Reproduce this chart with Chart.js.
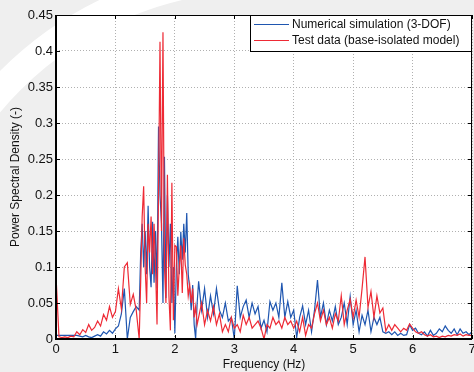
<!DOCTYPE html>
<html>
<head>
<meta charset="utf-8">
<script src="https://cdn.jsdelivr.net/npm/chart.js@4/dist/chart.umd.min.js"></script>
<style>
html,body{margin:0;padding:0;background:#efefef;}
#wrap{position:relative;width:474px;height:372px;}
</style>
</head>
<body>
<div id="wrap"><canvas id="c" width="474" height="372"></canvas></div>
<script>
const freqHz = [
  0,0.05,0.1,0.15,0.2,0.25,0.3,0.35,0.4,0.45,0.5,0.55,0.6,0.65,0.7,0.75,0.8,0.85,0.9,0.95,1.0,1.05,1.1,1.15,1.2,1.25,1.3,1.35,
  1.4,1.425,1.45,1.475,1.5,1.525,1.55,1.575,1.6,1.625,1.65,1.675,1.7,1.725,1.75,1.775,1.8,1.825,1.85,1.875,1.9,1.925,1.95,1.975,2.0,2.025,2.05,2.075,2.1,2.125,2.15,2.175,2.2,2.225,2.25,2.275,2.3,2.325,2.35,2.375,
  2.4,2.45,2.5,2.55,2.6,2.65,2.7,2.75,2.8,2.85,2.9,2.95,3.0,3.05,3.1,3.15,3.2,3.25,3.3,3.35,3.4,3.45,3.5,3.55,3.6,3.65,3.7,3.75,3.8,3.85,3.9,3.95,4.0,4.05,4.1,4.15,4.2,4.25,4.3,4.35,4.4,4.45,4.5,4.55,4.6,4.65,4.7,4.75,4.8,4.85,4.9,4.95,5.0,5.05,5.1,5.15,5.2,5.25,5.3,5.35,5.4,5.45,5.5,5.55,5.6,5.65,5.7,5.75,5.8,5.85,5.9,5.95,6.0,6.05,6.1,6.15,6.2,6.25,6.3,6.35,6.4,6.45,6.5,6.55,6.6,6.65,6.7,6.75,6.8,6.85,6.9,6.95,7.0
];
const numericalPSD = [
  0.005,0.005,0.005,0.005,0.005,0.005,0.005,0.005,0.004,0.003,0.005,0.003,0.002,0.004,0.006,0.004,0.010,0.007,0.012,0.008,0.014,0.018,0.035,0.070,0.000,0.030,0.038,0.045,
  0.04,0.12,0.16,0.1,0.15,0.09,0.185,0.1,0.072,0.163,0.078,0.15,0.07,0.295,0.2,0.16,0.05,0.253,0.057,0.2,0.1,0.16,0.05,0.1,0.008,0.1,0.142,0.09,0.149,0.11,0.16,0.12,0.175,0.09,0.07,0.04,0.075,0.02,0.0,0.05,
  0.08,0.04,0.07,0.03,0.06,0.035,0.07,0.04,0.03,0.05,
  0.025,0.03,0.0,0.074,0.03,0.045,0.054,0.03,0.05,0.035,
  0.045,0.015,0.026,0.01,0.052,0.04,0.05,0.03,0.078,0.03,
  0.052,0.03,0.04,0.002,0.03,0.046,0.02,0.04,0.01,0.04,
  0.082,0.03,0.05,0.02,0.04,0.025,0.045,0.02,0.03,0.05,
  0.02,0.059,0.02,0.04,0.01,0.033,0.02,0.04,0.01,0.03,
  0.02,0.03,0.01,0.008,0.01,0.006,0.01,0.005,0.008,0.005,
  0.006,0.02,0.012,0.015,0.008,0.006,0.01,0.004,0.012,0.005,
  0.008,0.014,0.01,0.018,0.012,0.008,0.014,0.006,0.014,0.008,
  0.01,0.006,0.01
];
const testPSD = [
  0.088,0.003,0.002,0.003,0.002,0.004,0.003,0.010,0.006,0.013,0.009,0.020,0.012,0.016,0.025,0.018,0.034,0.026,0.045,0.030,0.038,0.070,0.042,0.100,0.106,0.048,0.062,0.040,
  0.0,0.08,0.17,0.212,0.1,0.05,0.16,0.12,0.17,0.09,0.16,0.1,0.02,0.2,0.413,0.15,0.426,0.1,0.05,0.228,0.06,0.012,0.217,0.026,0.13,0.128,0.06,0.1,0.13,0.064,0.14,0.103,0.09,0.06,0.075,0.05,0.07,0.03,0.045,0.02,
  0.03,0.05,0.02,0.04,0.025,0.045,0.02,0.035,0.01,0.02,
  0.01,0.03,0.015,0.02,0.01,0.033,0.02,0.03,0.015,0.02,
  0.025,0.015,0.0,0.02,0.015,0.03,0.02,0.025,0.015,0.03,
  0.02,0.025,0.015,0.025,0.01,0.03,0.005,0.02,0.015,0.035,
  0.05,0.025,0.04,0.02,0.03,0.015,0.035,0.025,0.06,0.02,
  0.04,0.055,0.03,0.054,0.03,0.07,0.114,0.044,0.066,0.03,
  0.06,0.036,0.043,0.011,0.02,0.012,0.02,0.015,0.01,0.015,
  0.012,0.021,0.015,0.01,0.008,0.01,0.006,0.004,0.006,0.003,
  0.004,0.002,0.004,0.003,0.005,0.004,0.006,0.005,0.007,0.004,
  0.006,0.005,0.005
];
const seriesLabels = ['Numerical simulation (3-DOF)', 'Test data (base-isolated model)'];
const xTicks = [0,1,2,3,4,5,6,7];
const yTicks = [0,0.05,0.1,0.15,0.2,0.25,0.3,0.35,0.4,0.45];

const FONT = "'Liberation Sans', Arial, sans-serif";
const BLUE = '#1f56b0';
const RED = '#ee2a35';

const toPts = arr => freqHz.map((f, i) => ({x: f, y: arr[i]}));

const bgPlugin = {
  id: 'bg',
  beforeDraw(chart) {
    const ctx = chart.ctx;
    const a = chart.chartArea;
    ctx.save();
    ctx.fillStyle = '#efefef';
    ctx.fillRect(0, 0, chart.width, chart.height);
    ctx.strokeStyle = '#ffffff';
    ctx.lineWidth = 28;
    ctx.beginPath();
    ctx.arc(260, 330, 353, Math.PI * 1.0, Math.PI * 1.5);
    ctx.stroke();
    ctx.fillStyle = '#ffffff';
    ctx.fillRect(a.left, a.top, a.right - a.left, a.bottom - a.top);
    ctx.restore();
  }
};

const frameLegendPlugin = {
  id: 'frameLegend',
  afterDraw(chart) {
    const ctx = chart.ctx;
    const a = chart.chartArea;
    ctx.save();
    ctx.strokeStyle = '#000';
    ctx.lineWidth = 1;
    ctx.strokeRect(a.left + 0.5, a.top + 0.5, a.right - a.left - 1, a.bottom - a.top);
    ctx.lineWidth = 2;
    ctx.beginPath();
    ctx.moveTo(a.left, a.top);
    ctx.lineTo(a.left, a.bottom);
    ctx.lineTo(a.right, a.bottom);
    ctx.stroke();
    ctx.lineWidth = 1;
    const xs = chart.scales.x, ys = chart.scales.y;
    ctx.beginPath();
    xTicks.forEach(v => {
      const px = Math.round(xs.getPixelForValue(v)) + 0.5;
      ctx.moveTo(px, a.bottom); ctx.lineTo(px, a.bottom - 4);
      ctx.moveTo(px, a.top); ctx.lineTo(px, a.top + 4);
    });
    yTicks.forEach(v => {
      const py = Math.round(ys.getPixelForValue(v)) + 0.5;
      ctx.moveTo(a.left, py); ctx.lineTo(a.left + 4, py);
      ctx.moveTo(a.right, py); ctx.lineTo(a.right - 4, py);
    });
    ctx.stroke();
    const bx = 250.5, by = 15.5, bw = 221, bh = 36;
    ctx.fillStyle = '#fff';
    ctx.fillRect(bx, by, bw, bh);
    ctx.strokeStyle = '#000';
    ctx.lineWidth = 1;
    ctx.strokeRect(bx, by, bw, bh);
    const cols = [BLUE, RED];
    const rows = [24.5, 40.5];
    ctx.font = '12px ' + FONT;
    ctx.textBaseline = 'middle';
    ctx.textAlign = 'left';
    seriesLabels.forEach((t, i) => {
      ctx.strokeStyle = cols[i];
      ctx.lineWidth = 1;
      ctx.beginPath();
      ctx.moveTo(254, rows[i]); ctx.lineTo(289, rows[i]);
      ctx.stroke();
      ctx.fillStyle = '#111';
      ctx.fillText(t, 292, rows[i]);
    });
    ctx.restore();
  }
};

new Chart(document.getElementById('c'), {
  type: 'line',
  data: {
    datasets: [
      {label: seriesLabels[0], data: toPts(numericalPSD), borderColor: BLUE, borderWidth: 1.2, pointRadius: 0, tension: 0, order: 1},
      {label: seriesLabels[1], data: toPts(testPSD), borderColor: RED, borderWidth: 1.2, pointRadius: 0, tension: 0, order: 0}
    ]
  },
  options: {
    responsive: false,
    animation: false,
    events: [],
    layout: {padding: {left: 0, top: 15, right: 2, bottom: 0}},
    plugins: {legend: {display: false}, tooltip: {enabled: false}},
    scales: {
      x: {
        type: 'linear', min: 0, max: 7,
        afterBuildTicks: s => { s.ticks = xTicks.map(v => ({value: v})); },
        afterFit: s => { s.height = 33; s.paddingRight = 0; s.paddingLeft = 0; },
        ticks: {font: {family: FONT, size: 13}, color: '#111', padding: 3, maxRotation: 0},
        grid: {color: '#b0b0b0', lineWidth: 1, drawTicks: false},
        border: {display: false, dash: [1, 2]},
        title: {display: true, text: 'Frequency (Hz)', font: {family: FONT, size: 12}, color: '#111', padding: {top: 0, bottom: 0}}
      },
      y: {
        type: 'linear', min: 0, max: 0.45,
        afterBuildTicks: s => { s.ticks = yTicks.map(v => ({value: v})); },
        afterFit: s => { s.width = 56; s.paddingTop = 0; s.paddingBottom = 0; },
        ticks: {font: {family: FONT, size: 13}, color: '#111', padding: 3, callback: v => String(Math.round(v * 100) / 100)},
        grid: {color: '#b0b0b0', lineWidth: 1, drawTicks: false},
        border: {display: false, dash: [1, 2]},
        title: {display: true, text: 'Power Spectral Density (-)', font: {family: FONT, size: 12}, color: '#111', padding: {top: 8, bottom: 0}}
      }
    }
  },
  plugins: [bgPlugin, frameLegendPlugin]
});
</script>
</body>
</html>
